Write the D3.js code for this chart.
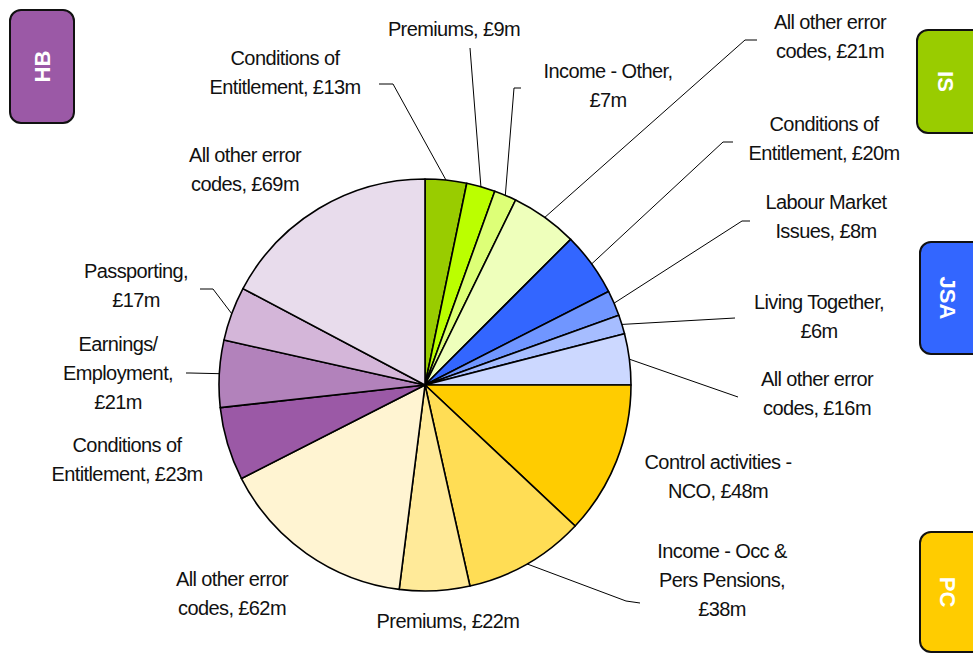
<!DOCTYPE html>
<html><head><meta charset="utf-8">
<script src="https://cdn.jsdelivr.net/npm/d3@7"></script>
<style>
body{margin:0;background:#fff;}
svg text{font-family:"Liberation Sans Narrow","Arial Narrow","Liberation Sans",Arial,sans-serif;}
</style></head>
<body><svg id="c" width="973" height="655"></svg>
<script>
// ---- data ----
const groups = ["IS","JSA","PC","HB"];
const groupColors = ["#99cc00","#3366ff","#ffcc00","#9b59a6"];
const categories = [
 "Conditions of Entitlement","Premiums","Income - Other","All other error codes",
 "Conditions of Entitlement","Labour Market Issues","Living Together","All other error codes",
 "Control activities - NCO","Income - Occ & Pers Pensions","Premiums","All other error codes",
 "Conditions of Entitlement","Earnings/ Employment","Passporting","All other error codes"];
const sliceGroup = ["IS","IS","IS","IS","JSA","JSA","JSA","JSA","PC","PC","PC","PC","HB","HB","HB","HB"];
const values = [13,9,7,21, 20,8,6,16, 48,38,22,62, 23,21,17,69];
const sliceColors = ["#99cc00","#bbff00","#ddff77","#eeffbb",
 "#3366ff","#7096ff","#a6bdff","#ccd8ff",
 "#ffcc00","#ffdd55","#ffea99","#fff4d2",
 "#9b59a6","#b282bb","#d4b6d9","#e8dcec"];
const labelLines = [
 ["Conditions of","Entitlement, £13m"],["Premiums, £9m"],["Income - Other,","£7m"],["All other error","codes, £21m"],
 ["Conditions of","Entitlement, £20m"],["Labour Market","Issues, £8m"],["Living Together,","£6m"],["All other error","codes, £16m"],
 ["Control activities -","NCO, £48m"],["Income - Occ &","Pers Pensions,","£38m"],["Premiums, £22m"],["All other error","codes, £62m"],
 ["Conditions of","Entitlement, £23m"],["Earnings/","Employment,","£21m"],["Passporting,","£17m"],["All other error","codes, £69m"]];

// ---- layout ----
const W=973,H=655, cx=425, cy=385, R=206;
const labelPos = [[285,65],[454,36],[608,78],[830,29],[824,131],[826,209],[819,309],[817,386],
 [718,469],[722,558],[448,628],[232,586],[127,452],[118,351],[136,278],[245,162]];
const leaders = [[[393,84],[379,84]],[[470,48]],[[514,88],[521,88]],[[745,40],[757,40]],
 [[723,142],[733,142]],[[742,221],[750,221]],[[735,318]],[[738,397]],
 null,[[626,601],[640,603]],null,null,
 null,[[190,373],[186,373]],[[213,289],[200,289]],null];
const boxes = [{g:"HB",x:10,y:10,w:64,h:113,rot:-90},{g:"IS",x:917,y:30,w:70,h:103,rot:90},
 {g:"JSA",x:920,y:242,w:70,h:112,rot:90},{g:"PC",x:920,y:532,w:70,h:120,rot:90}];

const svg=d3.select("#c");
const idx=d3.range(values.length);
const pie=d3.pie().sort(null).value(i=>values[i]);
const arcs=pie(idx);
const arc=d3.arc().innerRadius(0).outerRadius(R);
const g=svg.append("g").attr("transform",`translate(${cx},${cy})`);
g.selectAll("path").data(arcs).join("path")
 .attr("d",arc).attr("fill",d=>sliceColors[d.data])
 .attr("stroke","#000").attr("stroke-width",1.6).attr("stroke-linejoin","round");

arcs.forEach((a,i)=>{
  if(!leaders[i]) return;
  const m=(a.startAngle+a.endAngle)/2;
  const p0=[cx+R*Math.sin(m), cy-R*Math.cos(m)];
  svg.append("path").attr("d",d3.line()([p0,...leaders[i]]))
   .attr("fill","none").attr("stroke","#000").attr("stroke-width",1);
});

labelLines.forEach((lines,i)=>{
  const t=svg.append("text").attr("text-anchor","middle").attr("font-size",20)
   .attr("letter-spacing","-0.6px").attr("fill","#111");
  lines.forEach((s,k)=>t.append("tspan").attr("x",labelPos[i][0]).attr("y",labelPos[i][1]+k*29).text(s));
});

boxes.forEach(b=>{
  const col=groupColors[groups.indexOf(b.g)];
  svg.append("rect").attr("x",b.x).attr("y",b.y).attr("width",b.w).attr("height",b.h)
   .attr("rx",11).attr("fill",col).attr("stroke","#111").attr("stroke-width",2);
  const ty=b.y+b.h/2;
  const vx = b.rot<0 ? b.x+b.w/2 : b.x+(W-b.x)/2+1;
  svg.append("text").attr("transform",`translate(${vx},${ty}) rotate(${b.rot})`)
   .attr("text-anchor","middle").attr("dy","0.36em")
   .style("font-family","'Liberation Sans',Arial,sans-serif")
   .attr("font-size",22).attr("font-weight","bold").attr("fill","#fff").text(b.g);
});
</script></body></html>
